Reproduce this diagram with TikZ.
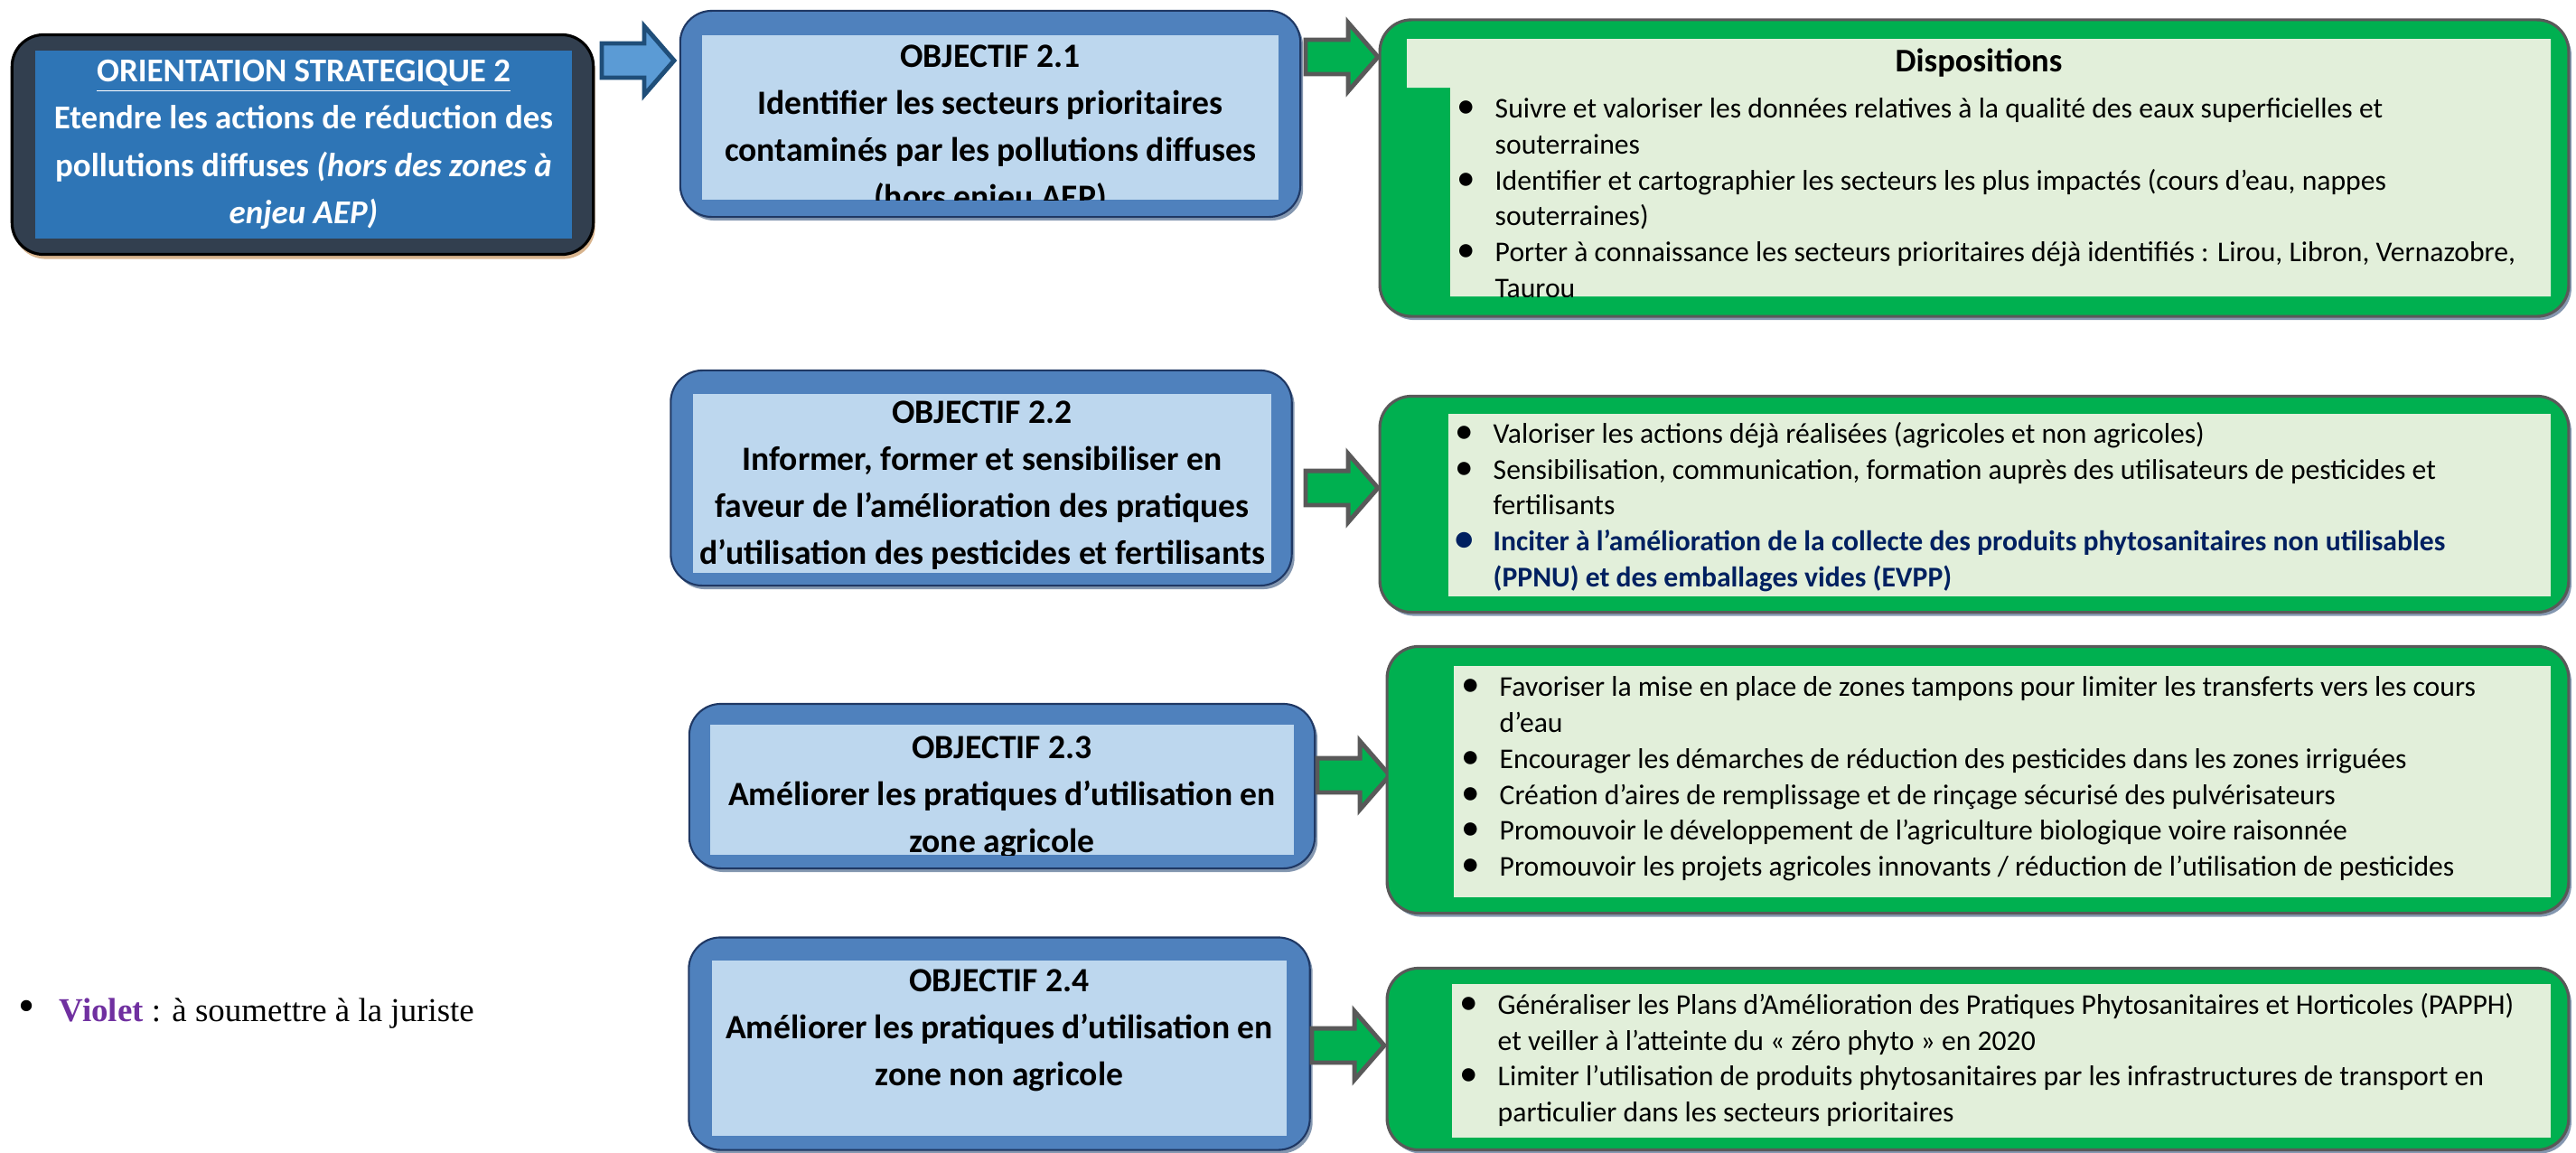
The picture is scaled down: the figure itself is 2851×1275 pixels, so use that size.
\documentclass[tikz,border=0pt]{standalone}
\usepackage{graphicx}
\usepackage{fontspec}
\setmainfont{Carlito}
\newfontfamily\timesfont{Liberation Serif}
\usetikzlibrary{shapes.arrows,shadows}

\definecolor{ardoise}{HTML}{323F4F}
\definecolor{bleuos}{HTML}{2E75B6}
\definecolor{bleuobj}{HTML}{4F81BD}
\definecolor{bleuclair}{HTML}{BDD7EE}
\definecolor{marine}{HTML}{1F3864}
\definecolor{bleufond}{HTML}{5B9BD5}
\definecolor{bleubord}{HTML}{1F4E79}
\definecolor{vert}{HTML}{00B050}
\definecolor{vertclair}{HTML}{E2EFDA}
\definecolor{grisbord}{HTML}{595959}
\definecolor{marinetxt}{HTML}{002060}
\definecolor{violette}{HTML}{7030A0}
\definecolor{ombrebleue}{HTML}{8497B0}
\definecolor{ombrebrune}{HTML}{D8B48E}

\newcommand{\puce}{\makebox[0.42cm][l]{\scalebox{1.3}{\textbullet}}}
\newcommand{\suite}{\hspace*{0.42cm}}

\tikzset{
  cadre/.style={rounded corners=0.35cm, inner sep=0pt, outer sep=0pt},
  orient/.style={cadre, draw=black, line width=0.9pt, fill=ardoise,
    drop shadow={shadow xshift=0.02cm, shadow yshift=-0.05cm, fill=ombrebrune, opacity=1}},
  objectif/.style={cadre, draw=marine, line width=0.6pt, fill=bleuobj,
    drop shadow={shadow xshift=0.03cm, shadow yshift=-0.04cm, fill=ombrebleue, opacity=1}},
  disposition/.style={cadre, draw=grisbord, line width=0.9pt, fill=vert,
    drop shadow={shadow xshift=0.03cm, shadow yshift=-0.04cm, fill=ombrebleue, opacity=1}},
  interieur/.style={inner sep=0pt, outer sep=0pt},
  ostxt/.style={align=center, inner sep=0pt, text=white,
    font=\fontsize{10.5}{14.8}\selectfont\bfseries},
  objtxt/.style={align=center, inner sep=0pt,
    font=\fontsize{10.7}{14.8}\selectfont\bfseries},
  listtxt/.style={align=left, anchor=west, inner sep=0pt,
    font=\fontsize{9}{11.3}\selectfont},
  fleche/.style={single arrow, anchor=tail, minimum height=0.8cm, minimum width=0.71cm,
    single arrow head extend=0.19cm, single arrow tip angle=98,
    inner sep=0pt, outer sep=0pt, line width=1.4pt},
  flechebleue/.style={fleche, draw=bleubord, fill=bleufond},
  flecheverte/.style={fleche, draw=grisbord, fill=vert}
}

\begin{document}
\begin{tikzpicture}[x=0.01cm, y=-0.01cm]
\useasboundingbox (0,0) rectangle (2851,1275);

% orientation strategique
\node[orient, minimum width=6.43cm, minimum height=2.43cm] (os) at (335,160) {};
\node[interieur, fill=bleuos, minimum width=5.93cm, minimum height=2.07cm] (osin) at (336,160) {};
\node[ostxt] (ostxt) at (336,160) {\underline{ORIENTATION STRATEGIQUE 2}\\
  Etendre les actions de réduction des\\
  pollutions diffuses \textit{(hors des zones à}\\
  \textit{enjeu AEP)}};

% objectifs
\node[objectif, minimum width=6.86cm, minimum height=2.28cm] (o1) at (1096,126) {};
\node[interieur, fill=bleuclair, minimum width=6.38cm, minimum height=1.82cm] (o1in) at (1096,130) {};
\begin{scope}
  \clip (o1in.north west) rectangle (o1in.south east);
  \node[objtxt] (o1txt) at (1096,143) {OBJECTIF 2.1\\
    Identifier les secteurs prioritaires\\
    contaminés par les pollutions diffuses\\
    (hors enjeu AEP)};
\end{scope}

\node[objectif, minimum width=6.87cm, minimum height=2.38cm] (o2) at (1086,529) {};
\node[interieur, fill=bleuclair, minimum width=6.39cm, minimum height=1.97cm] (o2in) at (1087,535) {};
\node[objtxt] (o2txt) at (1087,537) {OBJECTIF 2.2\\
  Informer, former et sensibiliser en\\
  faveur de l’amélioration des pratiques\\
  d’utilisation des pesticides et fertilisants};

\node[objectif, minimum width=6.92cm, minimum height=1.82cm] (o3) at (1109,870) {};
\node[interieur, fill=bleuclair, minimum width=6.46cm, minimum height=1.44cm] (o3in) at (1109,874) {};
\begin{scope}
  \clip (o3in.north west) rectangle (o3in.south east);
  \node[objtxt] (o3txt) at (1109,882) {OBJECTIF 2.3\\
    Améliorer les pratiques d’utilisation en\\
    zone agricole};
\end{scope}

\node[objectif, minimum width=6.87cm, minimum height=2.35cm] (o4) at (1106,1155) {};
\node[interieur, fill=bleuclair, minimum width=6.36cm, minimum height=1.93cm] (o4in) at (1106,1160) {};
\node[objtxt] (o4txt) at (1106,1140) {OBJECTIF 2.4\\
  Améliorer les pratiques d’utilisation en\\
  zone non agricole};

% fleches
\node[flechebleue] (f0) at (666,67) {\rule{0pt}{0.33cm}};
\node[flecheverte] (f1) at (1445,63) {\rule{0pt}{0.33cm}};
\node[flecheverte] (f2) at (1445,540) {\rule{0pt}{0.33cm}};
\node[flecheverte] (f3) at (1458,858) {\rule{0pt}{0.33cm}};
\node[flecheverte] (f4) at (1452,1157) {\rule{0pt}{0.33cm}};

% dispositions
\node[disposition, minimum width=13.15cm, minimum height=3.28cm] (d1) at (2185,186) {};
\fill[vertclair] (1557,43) -| (2823,328) -| (1605,97) -- (1557,97) -- cycle;
\node[font=\fontsize{10.4}{12}\selectfont\bfseries, inner sep=0pt] (d1titre) at (2190,70) {Dispositions};
\begin{scope}
  \clip (1605,97) rectangle (2823,328);
  \node[listtxt] (d1txt) at (1612,219) {\puce Suivre et valoriser les données relatives à la qualité des eaux superficielles et\\
    \suite souterraines\\
    \puce Identifier et cartographier les secteurs les plus impactés (cours d’eau, nappes\\
    \suite souterraines)\\
    \puce Porter à connaissance les secteurs prioritaires déjà identifiés : Lirou, Libron, Vernazobre,\\
    \suite Taurou};
\end{scope}

\node[disposition, minimum width=13.15cm, minimum height=2.39cm] (d2) at (2185,558) {};
\node[interieur, fill=vertclair, minimum width=12.2cm, minimum height=2.02cm] (d2in) at (2213,559) {};
\node[listtxt] (d2txt) at (1610,561) {\puce Valoriser les actions déjà réalisées (agricoles et non agricoles)\\
  \puce Sensibilisation, communication, formation auprès des utilisateurs de pesticides et\\
  \suite fertilisants\\
  {\color{marinetxt}\bfseries\puce Inciter à l’amélioration de la collecte des produits phytosanitaires non utilisables}\\
  {\color{marinetxt}\bfseries\suite (PPNU) et des emballages vides (EVPP)}};

\node[disposition, minimum width=13.07cm, minimum height=2.95cm] (d3) at (2189,863) {};
\node[interieur, fill=vertclair, minimum width=12.13cm, minimum height=2.56cm] (d3in) at (2216,865) {};
\node[listtxt] (d3txt) at (1617,862) {\puce Favoriser la mise en place de zones tampons pour limiter les transferts vers les cours\\
  \suite d’eau\\
  \puce Encourager les démarches de réduction des pesticides dans les zones irriguées\\
  \puce Création d’aires de remplissage et de rinçage sécurisé des pulvérisateurs\\
  \puce Promouvoir le développement de l’agriculture biologique voire raisonnée\\
  \puce Promouvoir les projets agricoles innovants / réduction de l’utilisation de pesticides};

\node[disposition, minimum width=13.07cm, minimum height=2.01cm] (d4) at (2189,1172) {};
\node[interieur, fill=vertclair, minimum width=12.15cm, minimum height=1.69cm] (d4in) at (2215,1174) {};
\node[listtxt] (d4txt) at (1615,1173) {\puce Généraliser les Plans d’Amélioration des Pratiques Phytosanitaires et Horticoles (PAPPH)\\
  \suite et veiller à l’atteinte du « zéro phyto » en 2020\\
  \puce Limiter l’utilisation de produits phytosanitaires par les infrastructures de transport en\\
  \suite particulier dans les secteurs prioritaires};

% legende
\node[anchor=west, inner sep=0pt, font=\timesfont\fontsize{10.5}{12}\selectfont] (legende) at (20,1122)
  {\makebox[0.45cm][l]{\scalebox{1.4}{\textbullet}}\textcolor{violette}{\bfseries Violet} : à soumettre à la juriste};
\end{tikzpicture}
\end{document}
